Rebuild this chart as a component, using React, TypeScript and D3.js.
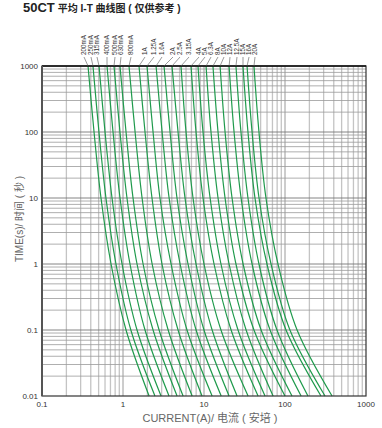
import React from "react";
import * as d3 from "d3";

const ratings = ["200mA","250mA","315mA","400mA","500mA","630mA","800mA","1A","1.25A","1.6A","2A","2.5A","3.15A","4A","5A","6.3A","8A","10A","12A","12.5A","15A","16A","20A"];
const times = [1000, 100, 10, 1, 0.1, 0.01];
// current (A) at each time point, one row per rating
const currents = [
  [0.370, 0.439, 0.535, 0.712, 1.09, 2.10],
  [0.426, 0.505, 0.616, 0.819, 1.25, 2.48],
  [0.506, 0.600, 0.732, 0.973, 1.49, 2.95],
  [0.635, 0.753, 0.919, 1.22, 1.87, 3.70],
  [0.774, 0.918, 1.12, 1.49, 2.35, 4.65],
  [0.918, 1.09, 1.33, 1.77, 2.79, 5.52],
  [1.186, 1.41, 1.72, 2.29, 3.61, 7.14],
  [1.576, 1.87, 2.28, 3.03, 4.78, 9.46],
  [1.979, 2.35, 2.86, 3.92, 6.17, 12.6],
  [2.56, 3.04, 3.71, 5.07, 7.99, 16.3],
  [3.21, 3.81, 4.64, 6.35, 10.0, 20.4],
  [4.03, 4.78, 5.83, 7.97, 12.6, 25.6],
  [5.20, 6.00, 7.32, 10.0, 16.2, 35.0],
  [6.91, 7.97, 9.72, 13.3, 21.6, 46.5],
  [8.43, 9.72, 11.9, 16.2, 26.3, 56.7],
  [10.6, 12.2, 14.9, 20.4, 33.1, 71.3],
  [12.9, 14.9, 18.2, 24.8, 41.4, 99.9],
  [15.8, 18.2, 22.2, 30.4, 50.7, 122],
  [20.4, 23.5, 28.7, 39.2, 65.4, 158],
  [24.8, 28.6, 34.9, 47.7, 79.6, 192],
  [30.3, 34.9, 42.6, 59.9, 103, 278],
  [34.0, 39.2, 47.8, 67.2, 115, 312],
  [41.4, 47.7, 58.2, 81.9, 141, 381],
];
const xTickLabels = ["0.1", "1", "10", "100", "1000"];
const yTickLabels = ["1000", "100", "10", "1", "0.1", "0.01"];

// layout: label column x positions (px) above the plot
const labelX = [84, 91, 97, 107, 115, 121, 131, 145, 154, 162, 173, 180, 189, 199, 205, 211, 218, 224, 230, 237, 243, 249, 255];

const W = 382, H = 428;
const L = 42, R = 366, T = 66, B = 396;
const GREEN = "#1f9a4c";
const FONT = "'Liberation Sans', Arial, Helvetica, sans-serif";
const CJK = "'Liberation Sans', 'Noto Sans CJK SC', sans-serif";

export default function App() {
  const x = d3.scaleLog().domain([0.1, 1000]).range([L, R]);
  const y = d3.scaleLog().domain([0.01, 1000]).range([B, T]);

  const minorX: number[] = [];
  for (let e = -1; e < 3; e++) for (let m = 2; m <= 9; m++) minorX.push(m * Math.pow(10, e));
  const majorX = [1, 10, 100];
  const minorY: number[] = [];
  for (let e = -2; e < 3; e++) for (let m = 2; m <= 9; m++) minorY.push(m * Math.pow(10, e));
  const majorY = [0.1, 1, 10, 100];

  const line = d3
    .line<[number, number]>()
    .x((d) => x(d[0]))
    .y((d) => y(d[1]))
    .curve(d3.curveCatmullRom.alpha(0.5));

  return (
    <svg width={W} height={H} style={{ position: "absolute", left: 0, top: 0, background: "#fff" }}>
      <text x={23} y={12} fontFamily={CJK} fill="#222">
        <tspan fontSize={13} fontWeight="bold" fontFamily={FONT}>50CT</tspan>
        <tspan fontSize={10} fontWeight="bold" dx={3}>平均 I-T 曲线图 ( 仅供参考 )</tspan>
      </text>

      {/* grid */}
      {minorX.map((v, i) => (
        <line key={"vx" + i} x1={x(v)} x2={x(v)} y1={T} y2={B} stroke="#c4c4c4" strokeWidth={1.3} />
      ))}
      {majorX.map((v, i) => (
        <line key={"Vx" + i} x1={x(v)} x2={x(v)} y1={T} y2={B} stroke="#9a9a9a" strokeWidth={1} />
      ))}
      {minorY.map((v, i) => (
        <line key={"hy" + i} x1={L} x2={R} y1={y(v)} y2={y(v)} stroke="#9a9a9a" strokeWidth={0.8} />
      ))}
      {majorY.map((v, i) => (
        <line key={"Hy" + i} x1={L} x2={R} y1={y(v)} y2={y(v)} stroke="#777" strokeWidth={0.9} />
      ))}

      {/* curves */}
      {currents.map((row, i) => (
        <path
          key={"c" + i}
          d={line(row.map((c, j) => [c, times[j]] as [number, number])) || ""}
          fill="none"
          stroke={GREEN}
          strokeWidth={1.2}
        />
      ))}

      {/* frame */}
      <rect x={L} y={T} width={R - L} height={B - T} fill="none" stroke="#333" strokeWidth={1.2} />
      <line x1={L} x2={R} y1={T} y2={T} stroke="#111" strokeWidth={1.6} />
      <line x1={L} x2={L} y1={T} y2={B} stroke="#555" strokeWidth={2} />

      {/* rating labels with leaders */}
      {ratings.map((r, i) => (
        <g key={"l" + i}>
          <line x1={labelX[i]} y1={57} x2={x(currents[i][0])} y2={T} stroke="#555" strokeWidth={0.6} />
          <text
            transform={`translate(${labelX[i] + 2.2},55) rotate(-90)`}
            fontSize={6.3}
            fontFamily={FONT}
            fill="#333"
          >
            {r}
          </text>
        </g>
      ))}

      {/* y tick labels */}
      {yTickLabels.map((t, i) => (
        <text key={"yt" + i} x={38} y={y(+t) + 3} textAnchor="end" fontSize={8} fontFamily={FONT} fill="#333">
          {t}
        </text>
      ))}
      {xTickLabels.map((t, i) => (
        <text key={"xt" + i} x={x(+t)} y={407} textAnchor="middle" fontSize={8} fontFamily={FONT} fill="#333">
          {t}
        </text>
      ))}

      <text
        transform={`translate(23,219) rotate(-90)`}
        textAnchor="middle"
        fontSize={10}
        fontFamily={CJK}
        fill="#666"
      >
        TIME(s)/ 时间 ( 秒 )
      </text>
      <text x={210} y={422} textAnchor="middle" fontSize={11} fontFamily={CJK} fill="#666">
        CURRENT(A)/ 电流 ( 安培 )
      </text>
    </svg>
  );
}
